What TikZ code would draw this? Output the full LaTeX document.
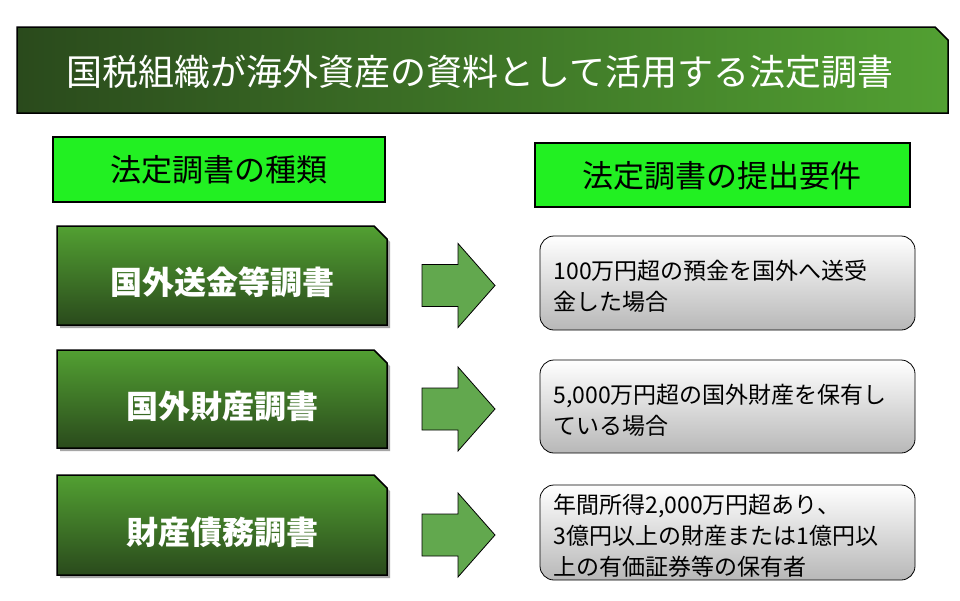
\documentclass[tikz,border=0pt]{standalone}
\usepackage{fontspec}
\newfontfamily\cjk{Noto Sans CJK JP}
\usetikzlibrary{positioning}
\definecolor{dkg}{HTML}{2A4A1C}
\definecolor{ltg}{HTML}{52A032}
\definecolor{brg}{HTML}{22F022}
\definecolor{arg}{HTML}{62A84E}
\tikzset{
 kind/.style={draw=black,line width=1.5pt,top color=ltg,bottom color=dkg},
 hdr/.style={draw=black,line width=1.5pt,fill=brg},
 req/.style={draw=black,line width=0.8pt,rounded corners=14pt,top color=white,bottom color=black!28},
 arr/.style={draw=black,line width=0.8pt,fill=arg},
 ktext/.style={text=white,font=\cjk\bfseries\fontsize{32}{36}\selectfont},
 htext/.style={text=black,font=\cjk\fontsize{31}{36}\selectfont},
 rtext/.style={text=black,font=\cjk\fontsize{23}{31}\selectfont,align=left,text width=360pt,anchor=west}
}
\begin{document}
\begin{tikzpicture}[x=1pt,y=-1pt]
\useasboundingbox (0,0) rectangle (960,600);
\fill[white] (0,0) rectangle (960,600);
% title banner
\draw[line width=1.5pt,left color=dkg,right color=ltg] (17,27) -- (935,27) -- (948,40) -- (948,113) -- (17,113) -- cycle;
\node[text=white,font=\cjk\fontsize{36}{40}\selectfont] (title) at (480,72) {国税組織が海外資産の資料として活用する法定調書};
% headers
\draw[hdr] (53,137) rectangle (385,202);
\node[htext] (h1) at (219,170) {法定調書の種類};
\draw[hdr] (535,143) rectangle (910,207);
\node[htext] (h2) at (722,176) {法定調書の提出要件};
% left boxes, arrows, right boxes
\foreach \t/\b/\lab/\req [count=\i] in {
 226/325/国外送金等調書/{100万円超の預金を国外へ送受\\金した場合},
 350/448/国外財産調書/{5,000万円超の国外財産を保有し\\ている場合},
 475/575/財産債務調書/{年間所得2,000万円超あり、\\3億円以上の財産または1億円以\\上の有価証券等の保有者}}{
 \fill[black!35] (60,\t+3) -- (377,\t+3) -- (390,\t+16) -- (390,\b+3) -- (60,\b+3) -- cycle;
 \draw[kind] (57,\t) -- (374,\t) -- (387,\t+13) -- (387,\b) -- (57,\b) -- cycle;
 \node[ktext] (k\i) at (222,{(\t+\b)/2+7}) {\lab};
 \pgfmathsetmacro{\c}{(\t+\b)/2+10}
 \draw[arr] (422,\c-21) -- (458,\c-21) -- (458,\c-42) -- (495,\c) -- (458,\c+42) -- (458,\c+21) -- (422,\c+21) -- cycle;
 \draw[req] (540,\t+10) rectangle (915,\b+5);
 \node[rtext] (r\i) at (550,{(\t+\b)/2+11}) {\req};
}
\end{tikzpicture}
\end{document}
